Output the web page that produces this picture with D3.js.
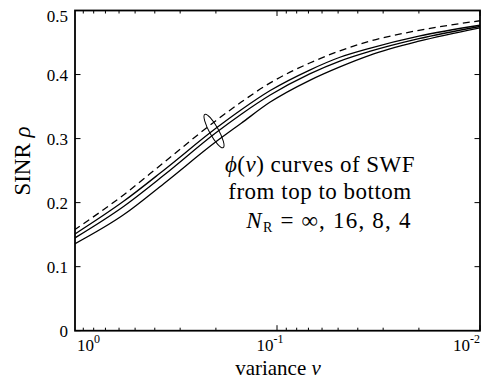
<!DOCTYPE html>
<html>
<head>
<meta charset="utf-8">
<script src="https://cdn.jsdelivr.net/npm/d3@7"></script>
<style>
  body { margin: 0; background: #fff; }
</style>
</head>
<body>
<svg id="grafico" width="493" height="381" font-family="'Liberation Serif', 'Times New Roman', Times, 'DejaVu Serif', serif"></svg>
<script>
// datos
const varianza = [1, 0.57, 0.36, 0.2, 0.15, 0.108, 0.069, 0.049, 0.035, 0.02, 0.01];
const sinrInf = [0.157, 0.212, 0.263, 0.328, 0.357, 0.387, 0.418, 0.437, 0.452, 0.469, 0.484];
const sinr16  = [0.150, 0.202, 0.251, 0.316, 0.345, 0.375, 0.407, 0.427, 0.441, 0.460, 0.477];
const sinr8   = [0.144, 0.194, 0.243, 0.309, 0.338, 0.368, 0.401, 0.421, 0.436, 0.456, 0.475];
const sinr4   = [0.135, 0.181, 0.230, 0.295, 0.324, 0.357, 0.391, 0.412, 0.430, 0.452, 0.473];
const ticksY = [0, 0.1, 0.2, 0.3, 0.4, 0.5];
const ticksXMayor = [1, 0.1, 0.01];
const etiquetasX = ["0", "-1", "-2"];

var izq = 75, der = 480, arriba = 10.5, abajo = 330.7;
var fuente = "'Liberation Serif', 'Times New Roman', Times, 'DejaVu Serif', serif";

var svg = d3.select("#grafico");

var x = d3.scaleLog().domain([1, 0.01]).range([74, der]);
var y = d3.scaleLinear().domain([0, 0.5]).range([abajo, arriba]);

//Recorte del area de trazado
svg.append("clipPath").attr("id", "recorte")
    .append("rect")
    .attr("x", izq).attr("y", arriba)
    .attr("width", der - izq).attr("height", abajo - arriba);

var linea = d3.line()
    .x(function (d) { return x(d[0]); })
    .y(function (d) { return y(d[1]); })
    .curve(d3.curveMonotoneX);

var series = [
    { valores: sinrInf, guiones: "7,4.5" },
    { valores: sinr16, guiones: null },
    { valores: sinr8, guiones: null },
    { valores: sinr4, guiones: null }
];

var gCurvas = svg.append("g").attr("clip-path", "url(#recorte)");
series.forEach(function (s) {
    gCurvas.append("path")
        .datum(varianza.map(function (v, i) { return [v, s.valores[i]]; }))
        .attr("d", linea)
        .attr("fill", "none")
        .attr("stroke", "#000")
        .attr("stroke-width", 1.3)
        .attr("stroke-dasharray", s.guiones);
});

//Ticks menores del eje x (hacia dentro, abajo y arriba)
var ticksXMenor = [];
[1, 0.1].forEach(function (dec) {
    for (var k = 2; k <= 9; k++) ticksXMenor.push(dec * k / 10);
});

var gTicks = svg.append("g").attr("stroke", "#000").attr("stroke-width", 1);
ticksXMenor.forEach(function (t) {
    gTicks.append("line").attr("x1", x(t)).attr("x2", x(t)).attr("y1", abajo).attr("y2", abajo - 3);
    gTicks.append("line").attr("x1", x(t)).attr("x2", x(t)).attr("y1", arriba).attr("y2", arriba + 3);
});
ticksXMayor.forEach(function (t) {
    if (x(t) < izq) return;
    gTicks.append("line").attr("x1", x(t)).attr("x2", x(t)).attr("y1", abajo).attr("y2", abajo - 5.5);
    gTicks.append("line").attr("x1", x(t)).attr("x2", x(t)).attr("y1", arriba).attr("y2", arriba + 5.5);
});
ticksY.forEach(function (t) {
    gTicks.append("line").attr("x1", izq).attr("x2", izq + 5.5).attr("y1", y(t)).attr("y2", y(t));
    gTicks.append("line").attr("x1", der).attr("x2", der - 5.5).attr("y1", y(t)).attr("y2", y(t));
});

//Marco
svg.append("rect")
    .attr("x", izq).attr("y", arriba)
    .attr("width", der - izq).attr("height", abajo - arriba)
    .attr("fill", "none").attr("stroke", "#000").attr("stroke-width", 1.8);

//Etiquetas del eje y
svg.selectAll(".etiquetaY")
    .data(ticksY)
    .join("text")
    .attr("class", "etiquetaY")
    .attr("x", 68)
    .attr("y", function (d) { return d === 0.5 ? y(d) + 11.5 : y(d) + 6; })
    .attr("text-anchor", "end")
    .attr("font-family", fuente)
    .style("font-size", "17px")
    .text(function (d) { return d === 0 ? "0" : d.toFixed(1); });

//Etiquetas del eje x (10^n)
var anclas = ["start", "middle", "end"];
var desplaz = [3, -7, 0];
ticksXMayor.forEach(function (t, i) {
    var txt = svg.append("text")
        .attr("x", x(t) + desplaz[i])
        .attr("y", 351)
        .attr("text-anchor", anclas[i])
        .attr("font-family", fuente)
        .style("font-size", "17px");
    txt.append("tspan").text("10");
    txt.append("tspan").attr("dy", -8).style("font-size", "12px").text(etiquetasX[i]);
});

//Titulos de ejes
var tx = svg.append("text")
    .attr("x", 278).attr("y", 375)
    .attr("text-anchor", "middle")
    .attr("font-family", fuente)
    .style("font-size", "21px");
tx.append("tspan").text("variance ");
tx.append("tspan").style("font-style", "italic").text("v");

var ty = svg.append("text")
    .attr("transform", "translate(30,161) rotate(-90)")
    .attr("text-anchor", "middle")
    .attr("font-family", fuente)
    .style("font-size", "23px");
ty.append("tspan").text("SINR ");
ty.append("tspan").style("font-style", "italic").text("ρ");

//Elipse que agrupa las curvas
svg.append("ellipse")
    .attr("transform", "translate(214,131) rotate(61)")
    .attr("rx", 19).attr("ry", 4.5)
    .attr("fill", "none").attr("stroke", "#000").attr("stroke-width", 1);

//Anotacion
var l1 = svg.append("text").attr("x", 320).attr("y", 172).attr("text-anchor", "middle")
    .attr("font-family", fuente).style("font-size", "23px").style("letter-spacing", "0.5px");
l1.append("tspan").style("font-style", "italic").text("ϕ");
l1.append("tspan").text("(");
l1.append("tspan").style("font-style", "italic").text("v");
l1.append("tspan").text(") curves of SWF");

svg.append("text").attr("x", 320).attr("y", 199).attr("text-anchor", "middle")
    .attr("font-family", fuente).style("letter-spacing", "0.5px")
    .style("font-size", "23px").text("from top to bottom");

var l3 = svg.append("text").attr("x", 329).attr("y", 228).attr("text-anchor", "middle")
    .attr("font-family", fuente).style("font-size", "23px").style("letter-spacing", "1.2px");
l3.append("tspan").style("font-style", "italic").text("N");
l3.append("tspan").attr("dy", 4).style("font-size", "14px").text("R");
l3.append("tspan").attr("dy", -4).text(" = ∞, 16, 8, 4");
</script>
</body>
</html>
